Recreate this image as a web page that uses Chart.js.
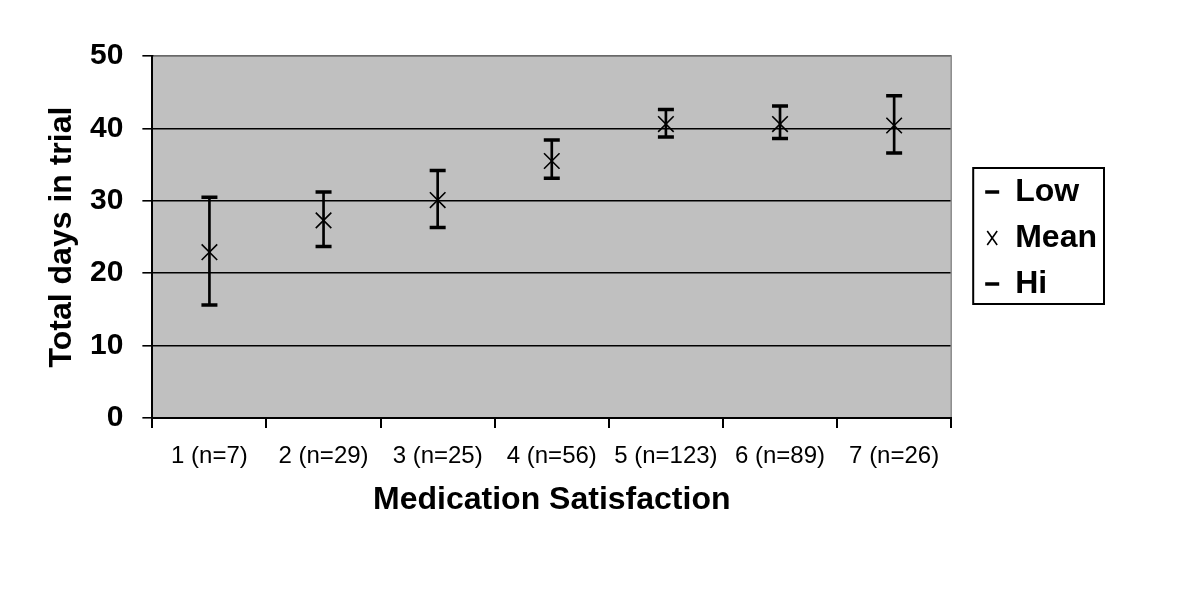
<!DOCTYPE html>
<html>
<head>
<meta charset="utf-8">
<script src="https://cdn.jsdelivr.net/npm/chart.js@4/dist/chart.umd.min.js"></script>
<style>
  html, body { margin: 0; padding: 0; background: #fff; }
  #wrap { width: 1200px; height: 600px; }
</style>
</head>
<body>
<div id="wrap"><canvas id="chart" width="1200" height="600"></canvas></div>
<script>
const categories = ["1 (n=7)", "2 (n=29)", "3 (n=25)", "4 (n=56)", "5 (n=123)", "6 (n=89)", "7 (n=26)"];
const lowValues = [15.6, 23.7, 26.3, 33.1, 38.8, 38.6, 36.6];
const meanValues = [22.9, 27.3, 30.1, 35.5, 40.6, 40.6, 40.4];
const hiValues = [30.5, 31.2, 34.2, 38.4, 42.6, 43.1, 44.5];
const yTicks = [0, 10, 20, 30, 40, 50];

const FONT = "'Liberation Sans', Arial, sans-serif";

// grey plot area, grey top/right frame, box around the legend
const plotFrame = {
  id: "plotFrame",
  afterLayout(chart) {
    // leave a gap between the plot and the legend, like the original
    const lg = chart.legend;
    lg.left += 20;
    lg.right += 20;
    lg.top += 1;
    lg.bottom += 1;
  },
  beforeDraw(chart) {
    const { ctx, chartArea: a } = chart;
    ctx.save();
    ctx.fillStyle = "#c0c0c0";
    ctx.fillRect(a.left, a.top, a.right - a.left, a.bottom - a.top);
    ctx.restore();
  },
  afterDraw(chart) {
    const { ctx, chartArea: a } = chart;
    ctx.save();
    ctx.strokeStyle = "#8c8c8c";
    ctx.lineWidth = 1.5;
    ctx.beginPath();
    ctx.moveTo(a.left + 1, a.top);
    ctx.lineTo(a.right, a.top);
    ctx.lineTo(a.right, a.bottom - 1);
    ctx.stroke();

    const boxes = chart.legend.legendHitBoxes;
    if (boxes && boxes.length) {
      let x0 = Infinity, y0 = Infinity, x1 = -Infinity, y1 = -Infinity;
      for (const b of boxes) {
        x0 = Math.min(x0, b.left); y0 = Math.min(y0, b.top);
        x1 = Math.max(x1, b.left + b.width); y1 = Math.max(y1, b.top + b.height);
      }
      ctx.strokeStyle = "#000";
      ctx.lineWidth = 2;
      ctx.strokeRect(x0 - 12, y0 - 8, x1 - x0 + 19, y1 - y0 + 12);
    }
    ctx.restore();
  },
};

new Chart(document.getElementById("chart"), {
  data: {
    labels: categories,
    datasets: [
      {
        type: "line",
        label: "Low",
        data: lowValues,
        showLine: false,
        pointStyle: "line",
        pointRadius: 8,
        pointHoverRadius: 8,
        pointBorderWidth: 3.5,
        borderColor: "#000",
        backgroundColor: "#000",
      },
      {
        type: "line",
        label: "Mean",
        data: meanValues,
        showLine: false,
        pointStyle: "crossRot",
        pointRadius: 11,
        pointHoverRadius: 11,
        pointBorderWidth: 1.6,
        borderColor: "#000",
        backgroundColor: "#000",
      },
      {
        type: "line",
        label: "Hi",
        data: hiValues,
        showLine: false,
        pointStyle: "line",
        pointRadius: 8,
        pointHoverRadius: 8,
        pointBorderWidth: 3.5,
        borderColor: "#000",
        backgroundColor: "#000",
      },
      {
        type: "bar",
        label: "range",
        data: lowValues.map((lo, i) => [lo, hiValues[i]]),
        backgroundColor: "#000",
        barThickness: 2,
      },
    ],
  },
  options: {
    responsive: false,
    animation: false,
    layout: { padding: { top: 56, right: 113, bottom: 84, left: 46 } },
    scales: {
      x: {
        type: "category",
        offset: true,
        border: { display: true, color: "#000", width: 2 },
        grid: {
          display: true,
          offset: true,
          drawOnChartArea: false,
          drawTicks: true,
          tickLength: 10,
          color: "#000",
          lineWidth: 2,
        },
        ticks: {
          color: "#000",
          padding: 16,
          maxRotation: 0,
          font: { family: FONT, size: 24, lineHeight: 1 },
        },
        title: {
          display: true,
          text: "Medication Satisfaction",
          color: "#000",
          padding: { top: 0, bottom: 0 },
          font: { family: FONT, size: 32, weight: "bold", lineHeight: 1 },
        },
      },
      y: {
        min: 0,
        max: 50,
        afterBuildTicks: (axis) => { axis.ticks = yTicks.map((v) => ({ value: v })); },
        border: { display: true, color: "#000", width: 2 },
        grid: {
          color: "#000",
          lineWidth: 1.6,
          tickLength: 10,
        },
        ticks: {
          color: "#000",
          padding: 19,
          font: { family: FONT, size: 30, weight: "bold" },
        },
        title: {
          display: true,
          text: "Total days in trial",
          color: "#000",
          padding: { top: 0, bottom: -7 },
          font: { family: FONT, size: 32, weight: "bold", lineHeight: 1 },
        },
      },
    },
    plugins: {
      legend: {
        position: "right",
        align: "center",
        fullSize: false,
        labels: {
          color: "#000",
          usePointStyle: true,
          pointStyleWidth: 14,
          boxHeight: 14,
          padding: 14,
          font: { family: FONT, size: 32, weight: "bold" },
          filter: (item) => item.text !== "range",
        },
      },
      tooltip: { enabled: false },
    },
  },
  plugins: [plotFrame],
});
</script>
</body>
</html>
